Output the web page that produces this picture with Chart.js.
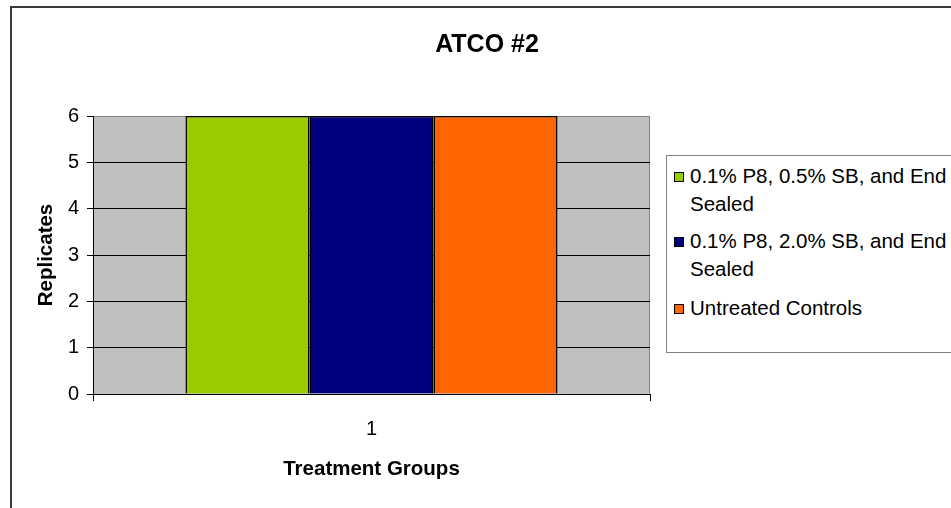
<!DOCTYPE html>
<html>
<head>
<meta charset="utf-8">
<script src="https://cdn.jsdelivr.net/npm/chart.js@4"></script>
<style>
    html, body { margin: 0; padding: 0; background: #fff; overflow: hidden; }
    #wrap { position: relative; width: 951px; height: 508px; }
    #frame {
        position: absolute; left: 10px; top: 6px; width: 1000px; height: 600px;
        border-left: 2px solid #3a3a3a; border-top: 2px solid #3a3a3a;
    }
    #chartBox { position: absolute; left: 0; top: 0; width: 951px; height: 508px; }
    #legend {
        position: absolute; left: 666px; top: 155px; width: 320px; height: 196px;
        border: 1px solid #808080; background: #fff;
        font-family: "Liberation Sans", Arial, sans-serif; font-size: 20.5px; color: #000;
    }
    .item { position: absolute; left: 23px; width: 264px; line-height: 28px; }
    .swatch {
        position: absolute; left: -16px; top: 10px; width: 8px; height: 8px;
        border: 1px solid #000;
    }
</style>
</head>
<body>
<div id="wrap">
    <div id="frame"></div>
    <div id="chartBox"><canvas id="chart" width="951" height="508"></canvas></div>
    <div id="legend"></div>
</div>
<script>
const categories = ["1"];
const seriesNames = [
    "0.1% P8, 0.5% SB, and End Sealed",
    "0.1% P8, 2.0% SB, and End Sealed",
    "Untreated Controls"
];
const seriesValues = [
    [6],
    [6],
    [6]
];
const seriesColors = ["#99CC00", "#000080", "#FF6600"];
const yMin = 0, yMax = 6, yStep = 1;
const chartTitle = "ATCO #2";

const FONT = "'Liberation Sans', Arial, sans-serif";

// gray plot area with gray top/right edge, and the title centred on the page
const plotBg = {
    id: "plotBg",
    beforeDraw(chart) {
        const a = chart.chartArea, c = chart.ctx;
        c.save();
        c.fillStyle = "#C0C0C0";
        c.fillRect(a.left, a.top, a.right - a.left, a.bottom - a.top);
        c.strokeStyle = "#808080";
        c.lineWidth = 1;
        c.beginPath();
        c.moveTo(a.left, a.top + 0.5);
        c.lineTo(a.right - 0.5, a.top + 0.5);
        c.lineTo(a.right - 0.5, a.bottom);
        c.stroke();

        c.fillStyle = "#000";
        c.font = "bold 25px " + FONT;
        c.textAlign = "center";
        c.textBaseline = "middle";
        c.fillText(chartTitle, 487, 45);
        c.restore();
    }
};

const ctx = document.getElementById("chart").getContext("2d");
const chart = new Chart(ctx, {
    type: "bar",
    data: {
        labels: categories,
        datasets: seriesNames.map((name, i) => ({
            label: name,
            data: seriesValues[i],
            backgroundColor: seriesColors[i],
            borderColor: "#000",
            borderWidth: 1.5,
            categoryPercentage: 0.668,
            barPercentage: 1
        }))
    },
    options: {
        responsive: false,
        animation: false,
        layout: { padding: { left: 30, top: 116, right: 301, bottom: 20 } },
        plugins: {
            legend: { display: false },
            tooltip: { enabled: false },
            title: { display: false }
        },
        scales: {
            x: {
                grid: { offset: true, drawOnChartArea: false, tickColor: "#000", tickLength: 7 },
                border: { color: "#000", width: 1 },
                ticks: { color: "#000", font: { family: FONT, size: 20 }, padding: 16 },
                title: {
                    display: true, text: "Treatment Groups", color: "#000",
                    font: { family: FONT, size: 20.5, weight: "bold" },
                    padding: { top: 0, bottom: 6 }
                },
                afterFit(scale) { scale.height = 94; }
            },
            y: {
                min: yMin, max: yMax,
                grid: {
                    color: c => (c.tick && c.tick.value === yMax) ? "rgba(0,0,0,0)" : "#000",
                    tickColor: "#000", tickLength: 6
                },
                border: { color: "#000", width: 1 },
                ticks: { stepSize: yStep, color: "#000", font: { family: FONT, size: 20 }, padding: 8 },
                title: {
                    display: true, text: "Replicates", color: "#000",
                    font: { family: FONT, size: 20.5, weight: "bold" },
                    padding: { top: 4, bottom: 0 }
                },
                afterFit(scale) { scale.width = 63; }
            }
        }
    },
    plugins: [plotBg]
});

// legend (long names wrap onto a second line)
const legend = document.getElementById("legend");
const itemTops = [6, 71, 138];
seriesNames.forEach((name, i) => {
    const div = document.createElement("div");
    div.className = "item";
    div.style.top = itemTops[i] + "px";
    div.innerHTML = `<span class="swatch" style="background:${seriesColors[i]}"></span>${name}`;
    legend.appendChild(div);
});
</script>
</body>
</html>
